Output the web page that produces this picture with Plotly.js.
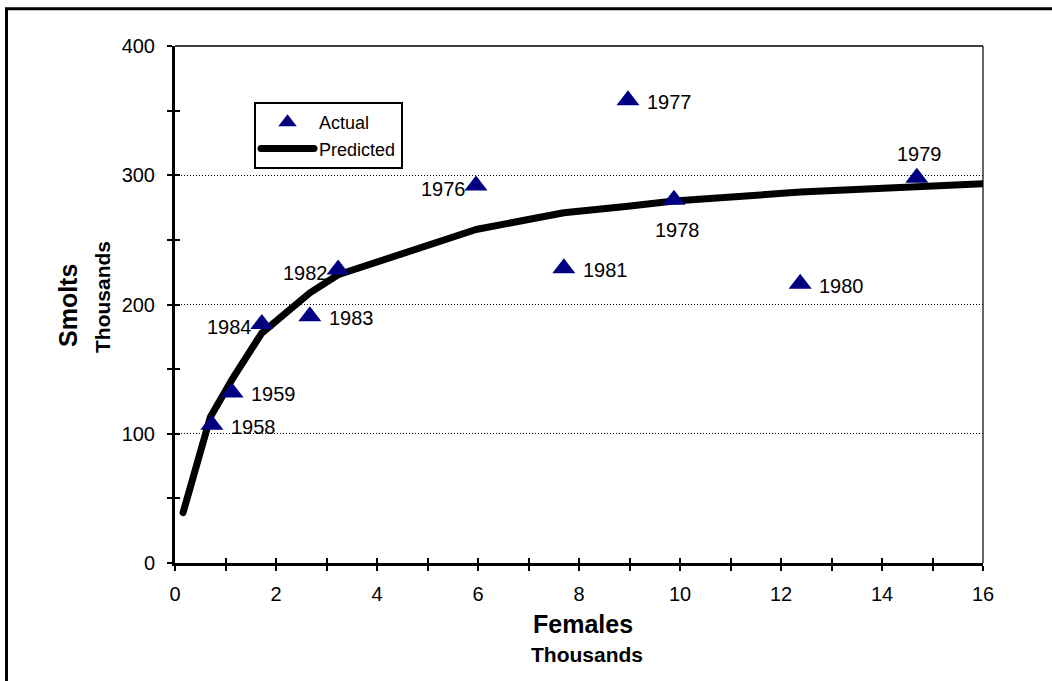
<!DOCTYPE html>
<html>
<head>
<meta charset="utf-8">
<script src="https://cdn.plot.ly/plotly-3.0.1.min.js"></script>
<style>
  html, body { margin: 0; padding: 0; background: #ffffff; }
  #chart { width: 1052px; height: 681px; }
  .js-line { stroke-linecap: round !important; stroke-linejoin: round !important; }
</style>
</head>
<body>
<div id="chart"></div>
<script>
// Spawning females vs. smolts produced (both in thousands)
const years   = ['1958', '1959', '1984', '1983', '1982', '1976', '1981', '1977', '1978', '1980', '1979'];
const females = [0.73, 1.13, 1.72, 2.67, 3.23, 5.96, 7.70, 8.97, 9.88, 12.38, 14.69];
const smolts  = [107, 132, 185, 191, 227, 292, 228, 358, 281, 216, 298];

// Fitted stock-recruitment curve
const predFemales = [0.16, 0.70, 1.13, 1.72, 2.67, 3.23, 5.96, 7.70, 8.97, 9.88, 12.38, 14.69, 16];
const predSmolts  = [39, 113, 142, 178, 209, 223, 258, 271, 276, 280, 287, 292, 293.5];

// Which side of its marker each year label sits on
const labelSide = ['r', 'r', 'l', 'r', 'l', 'l', 'r', 'r', 'b', 'r', 't'];

const xTickVals = [0, 2, 4, 6, 8, 10, 12, 14, 16];
const yTickVals = [0, 100, 200, 300, 400];

const FONT = 'Liberation Sans, Arial, Helvetica, sans-serif';

const predicted = {
  x: predFemales, y: predSmolts, type: 'scatter', mode: 'lines', name: 'Predicted',
  line: { color: '#000000', width: 7 }, legendrank: 2,
  cliponaxis: false
};
const actual = {
  x: females, y: smolts, type: 'scatter', mode: 'markers', name: 'Actual',
  marker: { symbol: 'triangle-up', size: 20, color: '#000080' }, legendrank: 1,
  cliponaxis: false
};
// Empty trace that carries the inner-tick overlay axes
const tickOverlay = { x: [], y: [], xaxis: 'x2', yaxis: 'y2', type: 'scatter', mode: 'markers', showlegend: false, hoverinfo: 'skip' };

const shiftFor = {
  r: { xanchor: 'left',   xshift: 17,  yshift: -2 },
  l: { xanchor: 'right',  xshift: -8,  yshift: -3 },
  b: { xanchor: 'center', xshift: 4,   yshift: -30 },
  t: { xanchor: 'center', xshift: 3,   yshift: 24 }
};
const labels = years.map((yr, i) => Object.assign({
  x: females[i], y: smolts[i], xref: 'x', yref: 'y', text: yr, showarrow: false,
  yanchor: 'middle', font: { family: FONT, size: 20, color: '#000' }
}, shiftFor[labelSide[i]]));

const titles = [
  { text: '<b>Females</b>', xref: 'paper', yref: 'paper', x: (583 - 175) / 808, y: (563 - 624) / 517,
    showarrow: false, xanchor: 'center', yanchor: 'middle', font: { family: FONT, size: 25, color: '#000' } },
  { text: '<b>Thousands</b>', xref: 'paper', yref: 'paper', x: (587 - 175) / 808, y: (563 - 654) / 517,
    showarrow: false, xanchor: 'center', yanchor: 'middle', font: { family: FONT, size: 21, color: '#000' } },
  { text: '<b>Smolts</b>', xref: 'paper', yref: 'paper', x: (68 - 175) / 808, y: (563 - 306) / 517,
    showarrow: false, xanchor: 'center', yanchor: 'middle', textangle: -90, font: { family: FONT, size: 25, color: '#000' } },
  { text: '<b>Thousands</b>', xref: 'paper', yref: 'paper', x: (102 - 175) / 808, y: (563 - 297) / 517,
    showarrow: false, xanchor: 'center', yanchor: 'middle', textangle: -90, font: { family: FONT, size: 21, color: '#000' } }
];

const layout = {
  width: 1052, height: 681,
  margin: { l: 175, r: 69, t: 46, b: 118 },
  paper_bgcolor: '#ffffff', plot_bgcolor: '#ffffff',
  font: { family: FONT, size: 20, color: '#000' },
  showlegend: true,
  legend: {
    x: (254 - 175) / 808, y: (563 - 102) / 517, xanchor: 'left', yanchor: 'top',
    bordercolor: '#000', borderwidth: 2, bgcolor: '#fff',
    font: { family: FONT, size: 18, color: '#000' },
    itemwidth: 53, tracegroupgap: 0
  },
  xaxis: {
    range: [0, 16], tickvals: xTickVals, ticktext: xTickVals.map(String),
    ticks: 'outside', ticklen: 5, tickwidth: 2, tickcolor: '#000',
    minor: { dtick: 1, tick0: 0, ticks: 'outside', ticklen: 5, tickwidth: 2, tickcolor: '#000', showgrid: false },
    showline: true, linewidth: 3, linecolor: '#000',
    showgrid: false, zeroline: false, ticklabelstandoff: 6,
    tickfont: { family: FONT, size: 20, color: '#000' }, fixedrange: true
  },
  yaxis: {
    range: [0, 400], tickvals: yTickVals, ticktext: yTickVals.map(String),
    ticks: 'outside', ticklen: 5, tickwidth: 2, tickcolor: '#000',
    minor: { dtick: 50, tick0: 0, ticks: 'outside', ticklen: 5, tickwidth: 2, tickcolor: '#000', showgrid: false },
    showline: true, linewidth: 3, linecolor: '#000',
    showgrid: true, gridcolor: '#000', gridwidth: 1, griddash: '1px,2px',
    zeroline: false, ticklabelstandoff: 8,
    tickfont: { family: FONT, size: 20, color: '#000' }, fixedrange: true
  },
  xaxis2: {
    overlaying: 'x', anchor: 'y', side: 'bottom', range: [0, 16], dtick: 1, tick0: 0,
    ticks: 'inside', ticklen: 5, tickwidth: 2, tickcolor: '#000',
    showticklabels: false, showgrid: false, zeroline: false, showline: false, fixedrange: true
  },
  yaxis2: {
    overlaying: 'y', anchor: 'x', side: 'left', range: [0, 400], dtick: 50, tick0: 0,
    ticks: 'inside', ticklen: 5, tickwidth: 2, tickcolor: '#000',
    showticklabels: false, showgrid: false, zeroline: false, showline: false, fixedrange: true
  },
  shapes: [
    // outer frame
    { type: 'rect', xref: 'paper', yref: 'paper', x0: (6.5 - 175) / 808, x1: 2, y0: -1, y1: (563 - 8.7) / 517,
      line: { color: '#000', width: 3 }, fillcolor: 'rgba(0,0,0,0)', layer: 'below' },
    // plot area top and right edges
    { type: 'line', xref: 'paper', yref: 'paper', x0: 0, x1: 1, y0: 1, y1: 1, line: { color: '#000', width: 1.5 } },
    { type: 'line', xref: 'paper', yref: 'paper', x0: 1, x1: 1, y0: 0, y1: 1, line: { color: '#000', width: 1.2 } }
  ],
  annotations: labels.concat(titles),
  hovermode: false
};

Plotly.newPlot('chart', [predicted, actual, tickOverlay], layout, { displayModeBar: false, staticPlot: true });
</script>
</body>
</html>
